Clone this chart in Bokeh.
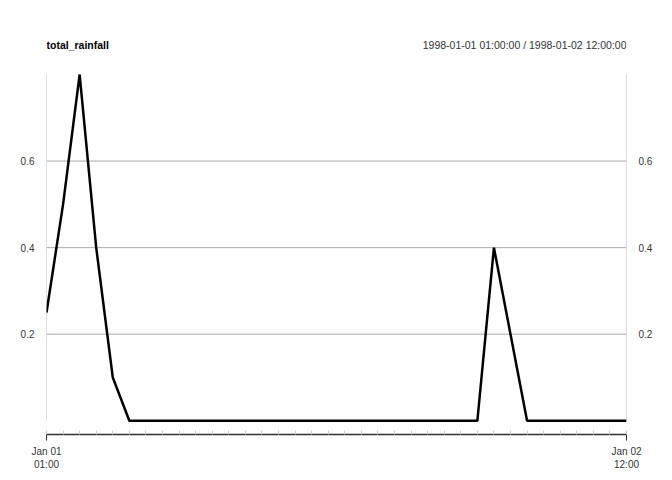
from bokeh.plotting import figure
from bokeh.models import FixedTicker, Range1d, LinearAxis
from bokeh.core.properties import value
from bokeh.embed import file_html
from bokeh.resources import INLINE

# hourly rainfall, 1998-01-01 01:00 .. 1998-01-02 12:00
hours = list(range(36))
total_rainfall = [0.25, 0.5, 0.8, 0.4, 0.1] + [0.0] * 22 + [0.4, 0.2] + [0.0] * 7
y_ticks = [0.2, 0.4, 0.6]
x_labels = {0: "Jan 01\n01:00", 35: "Jan 02\n12:00"}
title_left = "total_rainfall"
title_right = "1998-01-01 01:00:00 / 1998-01-02 12:00:00"

p = figure(width=664, height=472, output_backend="svg", toolbar_location=None,
           x_range=Range1d(0, 35), y_range=Range1d(-0.0317, 0.9017),
           min_border_left=46, min_border_right=38, min_border_top=30, min_border_bottom=29,
           y_axis_location=None)
p.outline_line_color = None
p.grid.visible = False

for loc in ["left", "right"]:
    ax = LinearAxis(ticker=FixedTicker(ticks=y_ticks))
    ax.axis_line_color = None
    ax.major_tick_line_color = None
    ax.minor_tick_line_color = None
    ax.major_label_text_font_size = "10px"
    ax.major_label_text_color = "#333333"
    ax.major_label_text_font = "Liberation Sans"
    ax.major_label_standoff = 6
    p.add_layout(ax, loc)

xa = p.xaxis[0]
xa.ticker = FixedTicker(ticks=list(x_labels.keys()), minor_ticks=hours)
xa.major_label_overrides = x_labels
xa.major_label_text_font_size = "10px"
xa.major_label_text_font = "Liberation Sans"
xa.major_label_text_color = "#333333"
xa.axis_line_color = "#333333"
xa.axis_line_width = 1.5
xa.major_tick_line_color = "#333333"
xa.major_tick_in = 0
xa.major_tick_out = 6
xa.minor_tick_line_color = "#cccccc"
xa.minor_tick_in = 4
xa.minor_tick_out = 0

for yv in y_ticks:
    p.line([0, 35], [yv, yv], color="#aaaaaa", line_width=1)
p.segment(x0=[0, 35], y0=[0, 0], x1=[0, 35], y1=[0.8, 0.8], color="#bbbbbb", line_width=1)

p.line(hours, total_rainfall, color="black", line_width=2.5)

p.text(x=[0], y=[0.868], text=[title_left], text_font=value("Liberation Sans"),
       text_font_style="bold", text_font_size="10.5px", text_baseline="middle")
p.text(x=[35], y=[0.868], text=[title_right], text_font=value("Liberation Sans"),
       text_font_size="10.5px", text_color="#333333", text_align="right",
       text_baseline="middle")

open("out.html", "w").write(file_html(p, INLINE))
